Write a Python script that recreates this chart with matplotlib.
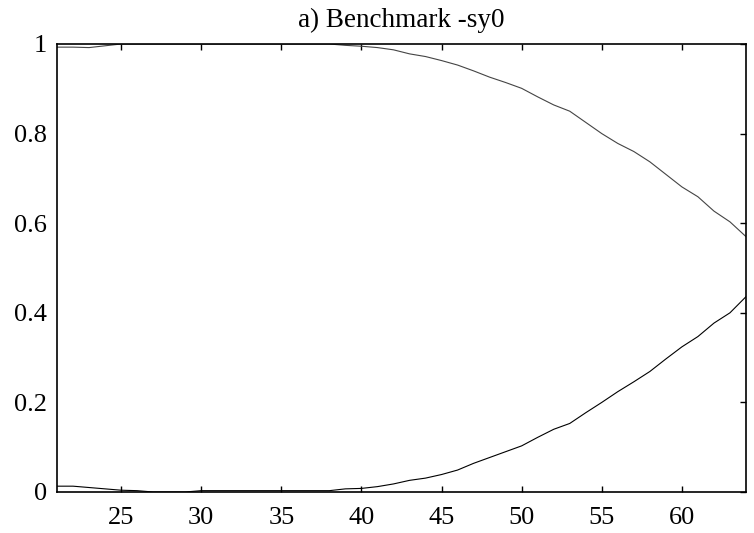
import matplotlib
matplotlib.use('Agg')
import matplotlib.pyplot as plt

# ages on the x axis
ages = list(range(21, 65))

# share near 1 (falls with age)
upper = [0.993, 0.993, 0.992, 0.996, 1.0, 1.0, 1.0, 1.0, 1.0, 1.0,
         1.0, 1.0, 1.0, 1.0, 1.0, 1.0, 1.0, 1.0, 0.997, 0.995,
         0.992, 0.987, 0.978, 0.972, 0.963, 0.953, 0.94, 0.926, 0.914, 0.901,
         0.882, 0.864, 0.85, 0.825, 0.80, 0.778, 0.76, 0.737, 0.709, 0.681,
         0.659, 0.627, 0.603, 0.570]

# share near 0 (rises with age)
lower = [0.013, 0.013, 0.010, 0.007, 0.004, 0.003, 0.0, 0.0, 0.0, 0.003,
         0.003, 0.003, 0.003, 0.003, 0.003, 0.003, 0.003, 0.003, 0.007, 0.008,
         0.012, 0.018, 0.026, 0.031, 0.039, 0.049, 0.064, 0.077, 0.09, 0.103,
         0.122, 0.14, 0.153, 0.177, 0.2, 0.224, 0.246, 0.269, 0.297, 0.324,
         0.347, 0.377, 0.40, 0.436]

xticks = [25, 30, 35, 40, 45, 50, 55, 60]
yticks = [0, 0.2, 0.4, 0.6, 0.8, 1]
yticklabels = ['0', '0.2', '0.4', '0.6', '0.8', '1']

plt.rcParams['font.family'] = ['Liberation Serif', 'DejaVu Serif']

fig = plt.figure(figsize=(7.54, 5.33), dpi=100)
ax = fig.add_axes([57 / 754, 41 / 533, 689 / 754, 448 / 533])

ax.plot(ages, upper, color='#444444', lw=0.8)
ax.plot(ages, lower, color='black', lw=0.8)

ax.set_xlim(21, 64)
ax.set_ylim(0, 1)
ax.set_xticks(xticks)
ax.set_yticks(yticks)
ax.set_yticklabels(yticklabels)
ax.tick_params(direction='in', length=4, width=1, labelsize=19,
               top=True, right=True, left=False)
ax.tick_params(axis='x', pad=11)
ax.tick_params(axis='y', pad=7)
for s in ax.spines.values():
    s.set_linewidth(1.2)

ax.set_title('a) Benchmark -sy0', fontsize=19.5, pad=12)

fig.savefig('out.png', dpi=100)
